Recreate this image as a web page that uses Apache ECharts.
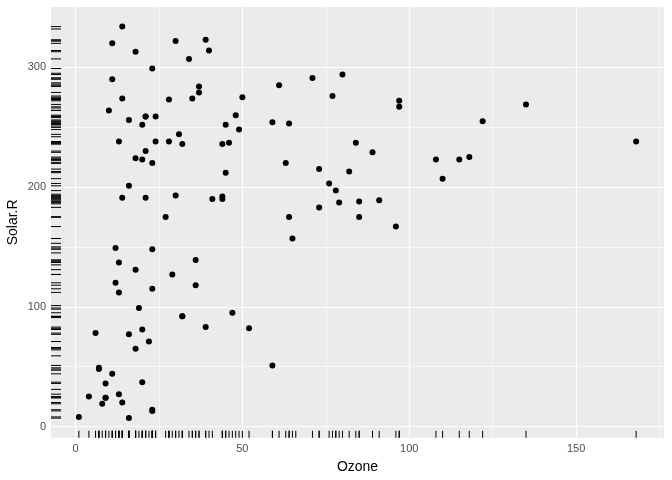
<!DOCTYPE html>
<html><head><meta charset="utf-8">
<script src="https://cdn.jsdelivr.net/npm/echarts@6/dist/echarts.min.js"></script>
<style>html,body{margin:0;padding:0;background:#fff}#c{width:672px;height:480px}</style>
</head><body><div id="c"></div>
<script>
// airquality: Ozone and Solar.R (null = NA)
const ozone = [41,36,12,18,null,28,23,19,8,null,7,16,11,14,18,14,34,6,30,11,1,11,4,32,null,null,null,23,45,115,37,null,null,null,null,null,null,29,null,71,39,null,null,23,null,null,21,37,20,12,13,null,null,null,null,null,null,null,null,null,null,135,49,32,null,64,40,77,97,97,85,null,10,27,null,7,48,35,61,79,63,16,null,null,80,108,20,52,82,50,64,59,39,9,16,78,35,66,122,89,110,null,null,44,28,65,null,22,59,23,31,44,21,9,null,45,168,73,null,76,118,84,85,96,78,73,91,47,32,20,23,21,24,44,21,28,9,13,46,18,13,24,16,13,23,36,7,14,30,null,14,18,20];
const solarR = [190,118,149,313,null,null,299,99,19,194,null,256,290,274,65,334,307,78,322,44,8,320,25,92,66,266,null,13,252,223,279,286,287,242,186,220,264,127,273,291,323,259,250,148,332,322,191,284,37,120,137,150,59,91,250,135,127,47,98,31,138,269,248,236,101,175,314,276,267,272,175,139,264,175,291,48,260,274,285,187,220,7,258,295,294,223,81,82,213,275,253,254,83,24,77,null,null,null,255,229,207,222,137,192,273,157,64,71,51,115,244,190,259,36,255,212,238,215,153,203,225,237,188,167,197,183,189,95,92,252,220,230,259,236,259,238,24,112,237,224,27,238,201,238,14,139,49,20,193,145,191,131,223];
const xTicks = [0,50,100,150];
const xMinor = [25,75,125,175];
const yTicks = [0,100,200,300];
const yMinor = [50,150,250];

const xMin = -7.35, xMax = 176.35, yMin = -9.35, yMax = 350.35;

const points = [];
for (let i = 0; i < ozone.length; i++) {
  if (ozone[i] != null && solarR[i] != null) points.push([ozone[i], solarR[i]]);
}
const xRug = ozone.filter(v => v != null).map(v => [v, yMin]);
const yRug = solarR.filter(v => v != null).map(v => [xMin, v]);

const gridLines = [];
xTicks.forEach(v => gridLines.push({xAxis: v, lineStyle: {width: 1.2}}));
yTicks.forEach(v => gridLines.push({yAxis: v, lineStyle: {width: 1.2}}));
xMinor.forEach(v => gridLines.push({xAxis: v, lineStyle: {width: 0.6}}));
yMinor.forEach(v => gridLines.push({yAxis: v, lineStyle: {width: 0.6}}));

const font = 'Liberation Sans, Arial, sans-serif';
const chart = echarts.init(document.getElementById('c'), null, {renderer: 'canvas'});
chart.setOption({
  animation: false,
  grid: {left: 51, right: 8, top: 7, bottom: 42.3, show: true, backgroundColor: '#EBEBEB', borderWidth: 0,
    containLabel: false, outerBoundsMode: 'none'},
  xAxis: {
    type: 'value', min: xMin, max: xMax,
    name: 'Ozone', nameLocation: 'middle', nameGap: 22, nameMoveOverlap: false,
    nameTextStyle: {color: '#000', fontSize: 14, fontFamily: font},
    axisLine: {show: false},
    splitLine: {show: false},
    axisTick: {show: true, customValues: xTicks, length: 3.5, lineStyle: {color: '#333', width: 1}},
    axisLabel: {customValues: xTicks, color: '#4D4D4D', fontSize: 11, fontFamily: font, margin: 6}
  },
  yAxis: {
    type: 'value', min: yMin, max: yMax,
    name: 'Solar.R', nameLocation: 'middle', nameGap: 30.5, nameRotate: 90, nameMoveOverlap: false,
    nameTextStyle: {color: '#000', fontSize: 14, fontFamily: font},
    axisLine: {show: false},
    splitLine: {show: false},
    axisTick: {show: true, customValues: yTicks, length: 3.5, lineStyle: {color: '#333', width: 1}},
    axisLabel: {customValues: yTicks, color: '#4D4D4D', fontSize: 11, fontFamily: font, margin: 5}
  },
  series: [
    {
      type: 'scatter', data: [], silent: true, z: 1,
      markLine: {z: 1, silent: true, symbol: 'none', label: {show: false}, animation: false,
        lineStyle: {color: '#FFFFFF', type: 'solid'}, data: gridLines}
    },
    {
      type: 'scatter', data: xRug, symbol: 'rect', symbolSize: [1, 7], symbolOffset: [0, -3.5],
      itemStyle: {color: '#000', opacity: 1}, z: 8, silent: true
    },
    {
      type: 'scatter', data: yRug, symbol: 'rect', symbolSize: [10, 1], symbolOffset: [5, 0],
      itemStyle: {color: '#000', opacity: 1}, z: 8, silent: true
    },
    {
      type: 'scatter', data: points, symbol: 'circle', symbolSize: 6,
      itemStyle: {color: '#000', opacity: 1}, z: 10
    }
  ]
});
</script></body></html>
